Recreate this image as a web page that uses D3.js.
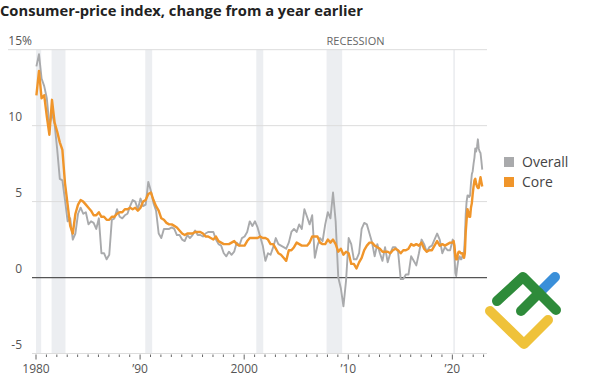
<!DOCTYPE html>
<html>
<head>
<meta charset="utf-8">
<script src="https://cdn.jsdelivr.net/npm/d3@7"></script>
<style>
  body { margin: 0; background: #fff; }
  svg { display: block; font-family: 'Open Sans', sans-serif; }
</style>
</head>
<body>
<div id="chart"></div>
<script>
// quarterly readings (Jan, Apr, Jul, Oct) 1980-2019
var overallQuarterly = [
  13.9, 14.7, 13.1, 12.6,  11.8, 10.0, 10.8, 10.1,  8.4, 6.5, 6.4, 5.1,  3.7, 3.9, 2.5, 2.9,
  4.2, 4.6, 4.2, 4.3,  3.5, 3.7, 3.6, 3.2,  3.9, 1.6, 1.6, 1.2,  1.5, 3.8, 3.9, 4.5,
  4.0, 3.9, 4.1, 4.2,  4.7, 5.1, 5.0, 4.5,  5.2, 4.7, 4.8, 6.3,  5.7, 4.9, 4.4, 2.9,
  2.6, 3.2, 3.2, 3.2,  3.3, 3.2, 2.8, 2.8,  2.5, 2.4, 2.8, 2.6,  2.8, 3.1, 2.8, 2.8,
  2.7, 2.9, 3.0, 3.0,  3.0, 2.5, 2.2, 2.1,  1.6, 1.4, 1.7, 1.5,  1.7, 2.3, 2.1, 2.6,
  2.7, 3.0, 3.7, 3.4,  3.7, 3.3, 2.7, 2.1,  1.1, 1.6, 1.5, 2.0,  2.6, 2.2, 2.1, 2.0,
  1.9, 2.3, 3.0, 3.2,  3.0, 3.5, 3.2, 4.5,  4.0, 3.5, 4.1, 1.3,  2.1, 2.6, 2.4, 3.5,
  4.3, 3.9, 5.6, 3.7,  0.0, -0.7, -1.9, -0.2,  2.6, 2.2, 1.2, 1.2,  1.6, 3.2, 3.6, 3.5,
  2.9, 2.3, 1.4, 2.2,  1.6, 1.1, 2.0, 1.0,  1.6, 2.0, 2.0, 1.7,  -0.1, -0.1, 0.2, 0.2,
  1.4, 1.1, 0.8, 1.6,  2.5, 2.2, 1.7, 2.0,  2.1, 2.5, 2.9, 2.5,  1.6, 2.0, 1.8, 1.8
]
var coreQuarterly = [
  12.0, 13.6, 11.8, 12.0,  10.6, 9.4, 11.7, 10.2,  9.6, 8.9, 8.4, 6.2,  4.8, 3.4, 2.9, 4.2,
  4.8, 5.1, 5.0, 4.8,  4.6, 4.4, 4.1, 4.1,  4.3, 4.0, 4.0, 3.8,  3.8, 4.0, 4.0, 4.2,
  4.3, 4.3, 4.5, 4.5,  4.6, 4.5, 4.6, 4.4,  4.6, 5.0, 5.1, 5.5,  5.6, 5.1, 4.7, 4.4,
  3.9, 3.8, 3.6, 3.5,  3.5, 3.4, 3.3, 3.1,  2.9, 2.8, 2.9, 2.9,  2.9, 3.0, 3.0, 3.0,
  2.9, 2.7, 2.7, 2.6,  2.5, 2.7, 2.4, 2.3,  2.2, 2.2, 2.2, 2.3,  2.4, 2.2, 2.1, 2.1,
  2.1, 2.4, 2.6, 2.6,  2.6, 2.6, 2.7, 2.6,  2.6, 2.5, 2.2, 2.2,  1.9, 1.6, 1.5, 1.3,
  1.1, 1.8, 1.8, 2.0,  2.3, 2.2, 2.1, 2.1,  2.1, 2.3, 2.7, 2.7,  2.7, 2.3, 2.2, 2.2,
  2.5, 2.3, 2.5, 2.2,  1.7, 1.9, 1.5, 1.7,  1.6, 0.9, 0.9, 0.6,  1.0, 1.3, 1.8, 2.1,
  2.3, 2.3, 2.1, 2.0,  1.9, 1.7, 1.7, 1.7,  1.6, 1.8, 1.9, 1.8,  1.6, 1.8, 1.8, 1.9,
  2.2, 2.1, 2.2, 2.1,  2.3, 1.9, 1.7, 1.8,  1.8, 2.1, 2.4, 2.1,  2.2, 2.1, 2.2, 2.3
]
// monthly readings Jan 2020 - Nov 2022
var overallMonthly = [
  2.5, 2.3, 1.5, 0.3, 0.1, 0.6, 1.0, 1.3, 1.4, 1.2, 1.2, 1.4,
  1.4, 1.7, 2.6, 4.2, 5.0, 5.4, 5.4, 5.3, 5.4, 6.2, 6.8, 7.0,
  7.5, 7.9, 8.5, 8.3, 8.6, 9.1, 8.5, 8.3, 8.2, 7.7, 7.1
]
var coreMonthly = [
  2.3, 2.4, 2.1, 1.4, 1.2, 1.2, 1.6, 1.7, 1.7, 1.6, 1.6, 1.6,
  1.4, 1.3, 1.6, 3.0, 3.8, 4.5, 4.3, 4.0, 4.0, 4.6, 4.9, 5.5,
  6.0, 6.4, 6.5, 6.2, 6.0, 5.9, 5.9, 6.3, 6.6, 6.3, 6.0
]
// recession periods [start, end]
var recessions = [
  ['1980-01', '1980-07'], ['1981-07', '1982-11'], ['1990-07', '1991-03'],
  ['2001-03', '2001-11'], ['2007-12', '2009-06'], ['2020-02', '2020-04']
]
var yTicks = [15, 10, 5, 0, -5]
var xTickYears = [1980, 1990, 2000, 2010, 2020]
var xTickLabels = ['1980', '\u201990', '2000', '\u201910', '\u201920']
var seriesNames = ['Overall', 'Core']

var COLOR = {
  OVERALL: '#a9aaac',
  CORE: '#f0952a',
  GRID: '#dcdcdc',
  ZERO: '#555',
  BAND: '#eceef1',
  TEXT: '#555'
}

var width = 594
var height = 383

var svg = d3
  .select('#chart')
  .append('svg')
  .attr('width', width)
  .attr('height', height)

var parseMonth = d3.timeParse('%Y-%m')

// dates for each reading (mid-month)
var quarterDates = d3.timeMonth.every(3).range(new Date(1980, 0, 1), new Date(2020, 0, 1))
var monthDates = d3.timeMonth.range(new Date(2020, 0, 1), new Date(2022, 10, 2))
var dates = quarterDates.concat(monthDates).map(d => d3.timeDay.offset(d, 14))
var overall = overallQuarterly.concat(overallMonthly)
var core = coreQuarterly.concat(coreMonthly)

var x = d3
  .scaleTime()
  .domain([new Date(1980, 0, 1), new Date(2023, 4, 1)])
  .range([36, 487])

var y = d3.scaleLinear().domain([-5, 15]).range([353.5, 49.7])

// recession bands
svg
  .selectAll('.band')
  .data(recessions)
  .enter()
  .append('rect')
  .attr('x', d => x(parseMonth(d[0])))
  .attr('y', y(15))
  .attr('width', d => Math.max(1.5, x(parseMonth(d[1])) - x(parseMonth(d[0]))))
  .attr('height', y(-5) - y(15))
  .attr('fill', COLOR.BAND)

svg
  .append('text')
  .attr('x', x(parseMonth(recessions[4][0])))
  .attr('y', 45)
  .attr('font-size', '11px')
  .attr('fill', '#666')
  .text('RECESSION')

// grid lines
svg
  .selectAll('.grid')
  .data(yTicks)
  .enter()
  .append('line')
  .attr('x1', d => (d === 15 ? 8 : 32))
  .attr('x2', 487)
  .attr('y1', d => y(d))
  .attr('y2', d => y(d))
  .attr('stroke', d => (d === 0 ? COLOR.ZERO : COLOR.GRID))
  .attr('stroke-width', d => (d === 0 ? 1.3 : 1))

// y labels
svg
  .selectAll('.ylabel')
  .data(yTicks)
  .enter()
  .append('text')
  .attr('x', 22)
  .attr('y', d => y(d) - 5)
  .attr('font-size', '12px')
  .attr('fill', COLOR.TEXT)
  .attr('text-anchor', 'end')
  .text(d => d)
svg
  .append('text')
  .attr('x', 22)
  .attr('y', y(15) - 5)
  .attr('font-size', '12px')
  .attr('fill', COLOR.TEXT)
  .text('%')

// x axis ticks
var yearTicks = d3.timeYear.range(new Date(1980, 0, 1), new Date(2023, 1, 1))
svg
  .selectAll('.xtick')
  .data(yearTicks)
  .enter()
  .append('line')
  .attr('x1', d => x(d))
  .attr('x2', d => x(d))
  .attr('y1', y(-5) + 1)
  .attr('y2', d => y(-5) + (d.getFullYear() % 10 === 0 ? 6 : 3.5))
  .attr('stroke', '#666')
  .attr('stroke-width', 1)

svg
  .selectAll('.xlabel')
  .data(xTickYears)
  .enter()
  .append('text')
  .attr('x', d => x(new Date(d, 0, 1)))
  .attr('y', 373)
  .attr('font-size', '12px')
  .attr('fill', COLOR.TEXT)
  .attr('text-anchor', 'middle')
  .text((d, i) => xTickLabels[i])

// lines
var line = d3
  .line()
  .x((d, i) => x(dates[i]))
  .y(d => y(d))

svg
  .append('path')
  .datum(overall)
  .attr('d', line)
  .attr('fill', 'none')
  .attr('stroke', COLOR.OVERALL)
  .attr('stroke-width', 1.9)
  .attr('stroke-linejoin', 'round')

svg
  .append('path')
  .datum(core)
  .attr('d', line)
  .attr('fill', 'none')
  .attr('stroke', COLOR.CORE)
  .attr('stroke-width', 2.4)
  .attr('stroke-linejoin', 'round')

// legend
var legend = svg
  .selectAll('.legend')
  .data(seriesNames)
  .enter()
  .append('g')
  .attr('transform', (d, i) => 'translate(504,' + (157 + i * 20) + ')')
legend
  .append('rect')
  .attr('width', 10)
  .attr('height', 10)
  .attr('fill', (d, i) => (i === 0 ? COLOR.OVERALL : COLOR.CORE))
legend
  .append('text')
  .attr('x', 18)
  .attr('y', 10)
  .attr('font-size', '14px')
  .attr('fill', '#444')
  .text(d => d)

// title
var title = svg
  .append('text')
  .attr('x', 0)
  .attr('y', 16)
  .attr('font-size', '14px')
  .attr('font-weight', 700)
  .attr('fill', '#222')
  .text('Consumer-price index, change from a year earlier')
var tw = title.node().getComputedTextLength()
title.attr('font-size', (14 * 363 / tw).toFixed(2) + 'px')

// watermark logo
var logo = svg.append('g').attr('fill', 'none').attr('stroke-linecap', 'round').attr('stroke-linejoin', 'round').attr('stroke-width', 10)
logo.append('path').attr('d', 'M490,311 L524,344 L548,320').attr('stroke', '#efc23a')
logo.append('path').attr('d', 'M540,292 L555,277').attr('stroke', '#3a8fd9')
logo.append('path').attr('d', 'M497,301 L523,277 L556,310').attr('stroke', '#2e8b3a')
logo.append('path').attr('d', 'M521,311 L539,293').attr('stroke', '#2e8b3a')
</script>
</body>
</html>
